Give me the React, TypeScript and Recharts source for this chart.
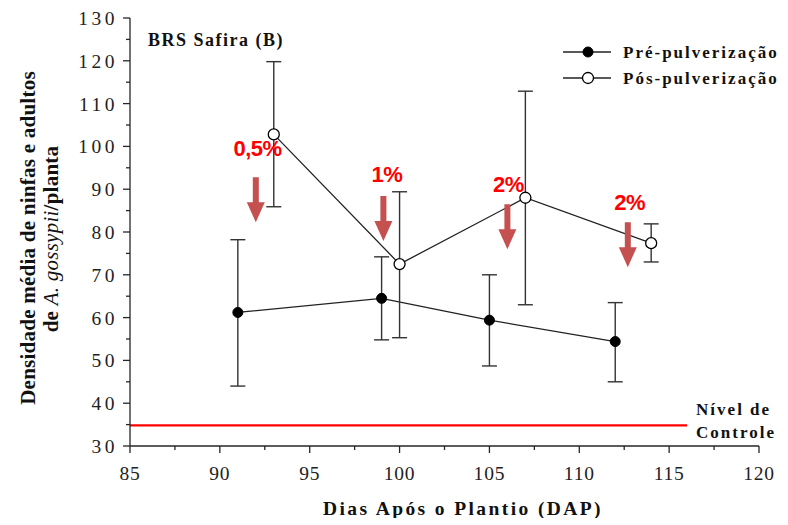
import React from 'react';
import {
  ComposedChart, Line, XAxis, YAxis, ErrorBar, ReferenceLine, ReferenceDot, Legend,
} from 'recharts';

const preX = [91, 99, 105, 112];
const preY = [61.2, 64.5, 59.4, 54.4];
const preLow = [44, 54.8, 48.7, 45];
const preHigh = [78.2, 74.2, 70, 63.5];

const postX = [93, 100, 107, 114];
const postY = [102.8, 72.5, 88, 77.4];
const postLow = [85.9, 55.3, 63, 73];
const postHigh = [119.8, 89.4, 112.9, 81.9];

const xTicks = [85, 87.5, 90, 92.5, 95, 97.5, 100, 102.5, 105, 107.5, 110, 112.5, 115, 117.5, 120];
const yTicks = [30, 35, 40, 45, 50, 55, 60, 65, 70, 75, 80, 85, 90, 95, 100, 105, 110, 115, 120, 125, 130];

const controlLevel = 34.8;
const controlEnd = 116;

const arrowX = [92, 99.1, 106, 112.7];
const arrowTop = [92.8, 88.4, 86.5, 82.3];
const doseLabels = ['0,5%', '1%', '2%', '2%'];
const doseX = [92.1, 99.3, 106.05, 112.8];
const doseY = [97.75, 91.7, 89.3, 85.1];

const preData = preX.map((x, i) => ({ x, y: preY[i], err: [preY[i] - preLow[i], preHigh[i] - preY[i]] }));
const postData = postX.map((x, i) => ({ x, y: postY[i], err: [postY[i] - postLow[i], postHigh[i] - postY[i]] }));

const SERIF = '"Liberation Serif", "Times New Roman", serif';
const AX = '#262626';

const YTick = (props: any) => {
  const { x, y, payload } = props;
  const major = payload.value % 10 === 0;
  return (
    <g>
      <line x1={x - (major ? 7 : 4)} x2={x} y1={y} y2={y} stroke={AX} strokeWidth={1.3} />
      {major && (
        <text x={x - 12} y={y + 7} textAnchor="end" fontFamily={SERIF} fontSize={19.5} letterSpacing={3.5} fill="#222">
          {payload.value}
        </text>
      )}
    </g>
  );
};

const XTick = (props: any) => {
  const { x, y, payload } = props;
  const major = payload.value % 5 === 0;
  return (
    <g>
      <line x1={x} x2={x} y1={y} y2={y + (major ? 7 : 4)} stroke={AX} strokeWidth={1.3} />
      {major && (
        <text x={x} y={y + 34} textAnchor="middle" fontFamily={SERIF} fontSize={19.5} letterSpacing={0.8} fill="#222">
          {payload.value}
        </text>
      )}
    </g>
  );
};

const YLabel = () => (
  <g>
    <text transform="translate(27,230) rotate(-90)" textAnchor="middle" fontFamily={SERIF} fontWeight="bold" fontSize={21} letterSpacing={0.25} fill="#111">
      Densidade média de ninfas e adultos
    </text>
    <text transform="translate(50,231) rotate(-90)" textAnchor="middle" fontFamily={SERIF} fontWeight="bold" fontSize={21} letterSpacing={0.25} fill="#111">
      de <tspan fontStyle="italic" fontWeight="normal">A. gossypii</tspan>/planta
    </text>
  </g>
);

const XLabel = () => (
  <text x={455} y={507} textAnchor="middle" fontFamily={SERIF} fontWeight="bold" fontSize={19.5} letterSpacing={2.4} fill="#111">
    Dias Após o Plantio (DAP)
  </text>
);

const Arrow = (props: any) => {
  const { cx, cy } = props;
  const len = 45, head = 20, hw = 9, sw = 3;
  const pts = [
    [cx - sw, cy], [cx + sw, cy], [cx + sw, cy + len - head], [cx + hw, cy + len - head],
    [cx, cy + len], [cx - hw, cy + len - head], [cx - sw, cy + len - head],
  ].map((p) => p.join(',')).join(' ');
  return <polygon points={pts} fill="#c4504f" />;
};

const LegendBox = () => (
  <svg width={235} height={60} style={{ display: 'block' }}>
    <line x1={5} x2={53} y1={14} y2={14} stroke="#222" strokeWidth={1.3} />
    <circle cx={30} cy={14} r={5} fill="#000" stroke="#000" />
    <text x={65} y={20} fontFamily={SERIF} fontWeight="bold" fontSize={17} letterSpacing={2} fill="#111">Pré-pulverização</text>
    <line x1={5} x2={53} y1={40} y2={40} stroke="#222" strokeWidth={1.3} />
    <circle cx={30} cy={40} r={5.5} fill="#fff" stroke="#000" strokeWidth={1.3} />
    <text x={65} y={46} fontFamily={SERIF} fontWeight="bold" fontSize={17} letterSpacing={2} fill="#111">Pós-pulverização</text>
  </svg>
);

export default function App() {
  return (
    <div style={{ width: 780, height: 510, position: 'relative' }}>
      <ComposedChart width={780} height={510} margin={{ top: 10, right: 29, left: 0, bottom: 0 }}>
        <XAxis
          type="number"
          dataKey="x"
          domain={[85, 120]}
          ticks={xTicks}
          interval={0}
          allowDataOverflow
          height={72}
          tickSize={0}
          tickMargin={0}
          tickLine={false}
          axisLine={{ stroke: AX, strokeWidth: 1.3 }}
          tick={<XTick />}
          label={<XLabel />}
        />
        <YAxis
          type="number"
          domain={[30, 130]}
          ticks={yTicks}
          interval={0}
          allowDataOverflow
          width={122}
          tickSize={0}
          tickMargin={0}
          tickLine={false}
          axisLine={{ stroke: AX, strokeWidth: 1.3 }}
          tick={<YTick />}
          label={<YLabel />}
        />
        <ReferenceLine
          segment={[{ x: 85, y: controlLevel }, { x: controlEnd, y: controlLevel }]}
          stroke="#ff0000"
          strokeWidth={2.2}
        />
        <Line
          data={preData}
          dataKey="y"
          type="linear"
          stroke="#222"
          strokeWidth={1.3}
          dot={{ r: 5, fill: '#000', stroke: '#000', strokeWidth: 1 }}
          isAnimationActive={false}
          legendType="none"
        >
          <ErrorBar dataKey="err" width={7.5} stroke="#333" strokeWidth={1.4} direction="y" />
        </Line>
        <Line
          data={postData}
          dataKey="y"
          type="linear"
          stroke="#222"
          strokeWidth={1.3}
          dot={{ r: 5.5, fill: '#fff', stroke: '#000', strokeWidth: 1.3 }}
          isAnimationActive={false}
          legendType="none"
        >
          <ErrorBar dataKey="err" width={7.5} stroke="#333" strokeWidth={1.4} direction="y" />
        </Line>
        {arrowX.map((x, i) => (
          <ReferenceDot key={'a' + i} x={x} y={arrowTop[i]} r={0} shape={<Arrow />} />
        ))}
        {doseLabels.map((t, i) => (
          <ReferenceDot
            key={'d' + i}
            x={doseX[i]}
            y={doseY[i]}
            r={0}
            shape={(p: any) => (
              <text x={p.cx} y={p.cy} textAnchor="middle" fontFamily='"Liberation Sans", Arial, sans-serif' fontWeight="bold" fontSize={22} letterSpacing={-0.5} fill="#ff0000">
                {t}
              </text>
            )}
          />
        ))}
        <ReferenceDot
          x={86}
          y={123.46}
          r={0}
          shape={(p: any) => (
            <text x={p.cx} y={p.cy} fontFamily={SERIF} fontWeight="bold" fontSize={18} letterSpacing={1.5} fill="#111">
              BRS Safira (B)
            </text>
          )}
        />
        <ReferenceDot
          x={116.5}
          y={controlLevel}
          r={0}
          shape={(p: any) => (
            <g>
              <text x={p.cx} y={p.cy - 10} fontFamily={SERIF} fontWeight="bold" fontSize={17} letterSpacing={2} fill="#111">Nível de</text>
              <text x={p.cx} y={p.cy + 13} fontFamily={SERIF} fontWeight="bold" fontSize={17} letterSpacing={2} fill="#111">Controle</text>
            </g>
          )}
        />
        <Legend
          layout="horizontal"
          verticalAlign="middle"
          align="center"
          wrapperStyle={{ position: 'absolute', top: 30, left: 550, width: 235, height: 60 }}
          content={() => <LegendBox />}
        />
      </ComposedChart>
    </div>
  );
}
